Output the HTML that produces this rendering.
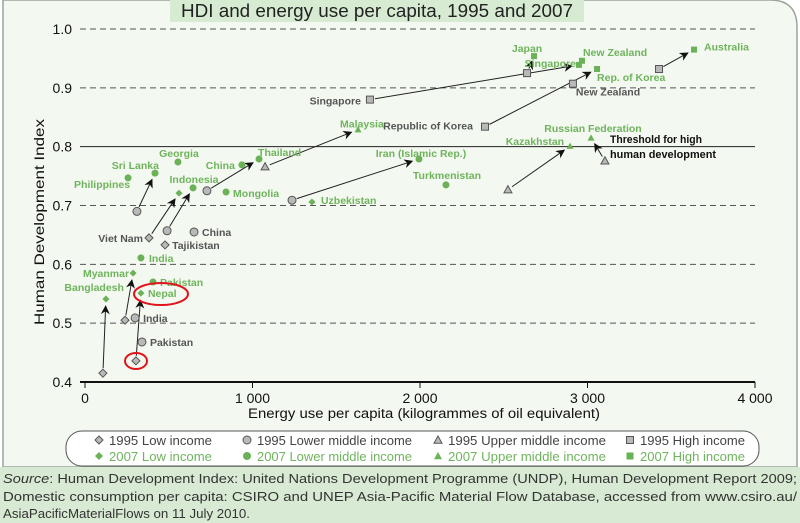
<!DOCTYPE html>
<html><head><meta charset="utf-8">
<style>
html,body{margin:0;padding:0;background:#fff;}
svg{display:block;font-family:"Liberation Sans",sans-serif;}
</style></head>
<body>
<svg id="chart" width="800" height="523" viewBox="0 0 800 523" xmlns="http://www.w3.org/2000/svg">
<defs>
<marker id="ah" viewBox="0 0 10 10" refX="9" refY="5" markerWidth="9" markerHeight="9" orient="auto" markerUnits="userSpaceOnUse">
<path d="M0,0 L10,5 L0,10 L3,5 z" fill="#111"/>
</marker>
</defs>
<rect x="0" y="0" width="800" height="523" fill="#ffffff"/>
<path d="M3,0 H770 Q797,0 797,27 V467 H3 Z" fill="#f3f8f0" stroke="#9aa49a" stroke-width="1.5"/>
<rect x="0" y="467" width="800" height="56" fill="#d8ead3"/>
<rect x="170" y="0" width="414" height="22" fill="#d6ebd2"/>
<text x="377" y="17" text-anchor="middle" font-size="18" fill="#222" textLength="392" lengthAdjust="spacingAndGlyphs">HDI and energy use per capita, 1995 and 2007</text>
<g id="axes"></g>
<g id="arrows"></g>
<g id="marks"></g>
<g id="labels"></g>
<text x="610" y="143" font-size="11" font-weight="bold" fill="#111" textLength="92" lengthAdjust="spacingAndGlyphs">Threshold for high</text>
<text x="610" y="158" font-size="11" font-weight="bold" fill="#111" textLength="106" lengthAdjust="spacingAndGlyphs">human development</text>
<ellipse cx="161" cy="294" rx="27" ry="11" fill="none" stroke="#e0151b" stroke-width="2"/>
<ellipse cx="136" cy="361" rx="11" ry="8" fill="none" stroke="#e0151b" stroke-width="2"/>
<text transform="translate(44,222) rotate(-90)" text-anchor="middle" font-size="14" fill="#111" textLength="206" lengthAdjust="spacingAndGlyphs">Human Development Index</text>
<text x="424" y="418" text-anchor="middle" font-size="13.5" fill="#111" textLength="352" lengthAdjust="spacingAndGlyphs">Energy use per capita (kilogrammes of oil equivalent)</text>
<g id="legend"></g>
<g font-size="12.5" fill="#333">
<text x="3" y="483" textLength="794" lengthAdjust="spacingAndGlyphs"><tspan font-style="italic">Source</tspan>: Human Development Index: United Nations Development Programme (UNDP), Human Development Report 2009;</text>
<text x="3" y="501" textLength="794" lengthAdjust="spacingAndGlyphs">Domestic consumption per capita: CSIRO and UNEP Asia-Pacific Material Flow Database, accessed from www.csiro.au/</text>
<text x="3" y="518" textLength="247" lengthAdjust="spacingAndGlyphs">AsiaPacificMaterialFlows on 11 July 2010.</text>
</g>
</svg>
<script>
// ---- data ----
const xTicks = [0, 1000, 2000, 3000, 4000];
const xTickLabels = ["0", "1 000", "2 000", "3 000", "4 000"];
const yTicks = [0.4, 0.5, 0.6, 0.7, 0.8, 0.9, 1.0];
const yTickLabels = ["0.4", "0.5", "0.6", "0.7", "0.8", "0.9", "1.0"];
const threshold = 0.8;
const pointIds = ["srilanka-2007","philippines-2007","georgia-2007","indonesia-2007","vietnam-2007","china-2007","thailand-2007","malaysia-2007","mongolia-2007","uzbekistan-2007","iran-2007","turkmenistan-2007","kazakhstan-2007","russia-2007","japan-2007","singapore-2007","newzealand-2007","korea-2007","australia-2007","india-2007","myanmar-2007","pakistan-2007","nepal-2007","bangladesh-2007",
 "srilanka-1995","vietnam-1995","indonesia-1995","china-1995","tajikistan-1995","thailand-lm-1995","malaysia-1995","iran-1995","singapore-1995","japan-1995","newzealand-1995","korea-1995","australia-1995","kazakhstan-1995","russia-1995","india-1995","pakistan-1995","myanmar-1995","nepal-1995","bangladesh-1995"];
const pointLabels = ["Sri Lanka","Philippines","Georgia","Indonesia","","China","Thailand","Malaysia","Mongolia","Uzbekistan","Iran (Islamic Rep.)","Turkmenistan","Kazakhstan","Russian Federation","Japan","Singapore","New Zealand","Rep. of Korea","Australia","India","Myanmar","Pakistan","Nepal","Bangladesh",
 "","Viet Nam","","China","Tajikistan","","","","Singapore","","New Zealand","Republic of Korea","","","","India","Pakistan","","",""];
const pointYears = [2007,2007,2007,2007,2007,2007,2007,2007,2007,2007,2007,2007,2007,2007,2007,2007,2007,2007,2007,2007,2007,2007,2007,2007,
 1995,1995,1995,1995,1995,1995,1995,1995,1995,1995,1995,1995,1995,1995,1995,1995,1995,1995,1995,1995];
const pointGroups = ["lm","lm","lm","lm","low","lm","lm","um","lm","low","lm","lm","um","um","high","high","high","high","high","lm","low","lm","low","low",
 "lm","low","lm","lm","low","lm","um","lm","high","high","high","high","high","um","um","lm","lm","low","low","low"];
const energy = [418,257,555,645,561,937,1039,1630,842,1355,1994,2155,2896,3021,2681,2949,2967,3057,3636,334,287,406,334,125,
 310,382,490,651,478,728,1075,1236,1701,2639,2913,2388,3427,2525,3104,299,340,239,304,107];
const hdi = [0.755,0.747,0.774,0.730,0.721,0.769,0.779,0.829,0.723,0.706,0.779,0.735,0.801,0.815,0.954,0.939,0.946,0.932,0.965,0.611,0.585,0.570,0.551,0.541,
 0.690,0.645,0.657,0.655,0.633,0.725,0.766,0.709,0.880,0.925,0.907,0.834,0.932,0.727,0.776,0.509,0.468,0.505,0.436,0.415];
const arrowFrom = [24,25,26,29,30,31,32,33,35,36,37,38,41,42,43];
const arrowTo   = [0, 4, 3, 6, 7, 10,15,14,17,18,12,13,20,22,23];
const legendLabels = ["1995 Low income","1995 Lower middle income","1995 Upper middle income","1995 High income","2007 Low income","2007 Lower middle income","2007 Upper middle income","2007 High income"];

// ---- label placement (style, not data) ----
const labelStyle = {
 "srilanka-2007":[4,-8,"end"],"philippines-2007":[2,6,"end"],"georgia-2007":[1,-9,"middle"],"indonesia-2007":[1,-9,"middle"],
 "china-2007":[-7,0,"end"],"thailand-2007":[-1,-7,"start"],"malaysia-2007":[-18,-6,"start"],"mongolia-2007":[7,1,"start"],
 "uzbekistan-2007":[9,-2,"start"],"iran-2007":[2,-6,"middle"],"turkmenistan-2007":[1,-10,"middle"],"kazakhstan-2007":[-6,-5,"end"],
 "russia-2007":[2,-10,"middle"],"japan-2007":[-7,-8,"middle"],"singapore-2007":[-3,-2,"end"],"newzealand-2007":[1,-9,"start"],
 "korea-2007":[0,8,"start"],"australia-2007":[10,-3,"start"],"india-2007":[8,0,"start"],"myanmar-2007":[-4,0,"end"],
 "pakistan-2007":[7,0,"start"],"nepal-2007":[7,0,"start"],"bangladesh-2007":[18,-12,"end"],
 "vietnam-1995":[-6,0,"end"],"china-1995":[8,0,"start"],"tajikistan-1995":[7,0,"start"],"singapore-1995":[-9,1,"end"],
 "newzealand-1995":[3,8,"start"],"korea-1995":[-12,-1,"end"],"india-1995":[8,0,"start"],"pakistan-1995":[8,0,"start"]
};

const NS = "http://www.w3.org/2000/svg";
const X0 = 85, X1 = 755, Y0 = 382, Y1 = 29;
function xs(v){ return X0 + (v - 0) / 4000 * (X1 - X0); }
function ys(v){ return Y0 - (v - 0.4) / 0.6 * (Y0 - Y1); }
function mk(tag, attrs, parent){ const e = document.createElementNS(NS, tag); for (const k in attrs) e.setAttribute(k, attrs[k]); parent.appendChild(e); return e; }

const GREEN = "#6bb157", GRAYF = "#b9b9b9", GRAYS = "#555", LBLG = "#555";

// axes
const axes = document.getElementById("axes");
yTicks.forEach((t, i) => {
  const y = ys(t);
  if (t > 0.4) {
    const solid = Math.abs(t - threshold) < 1e-9;
    const ln = mk("line", {x1: 80, x2: X1, y1: y, y2: y, stroke: solid ? "#222" : "#555", "stroke-width": 1, "stroke-dasharray": solid ? "none" : "6,4"}, axes);
    
    
  }
  const tx = mk("text", {x: 72, y: y + 5, "text-anchor": "end", "font-size": 14, fill: "#111"}, axes);
  tx.textContent = yTickLabels[i];
  
  
});
const xa = mk("line", {x1: 80, x2: X1, y1: Y0, y2: Y0, stroke: "#111", "stroke-width": 2}, axes);


xTicks.forEach((t, i) => {
  const x = xs(t);
  const tk = mk("line", {x1: x, x2: x, y1: Y0, y2: Y0 + 6, stroke: "#111", "stroke-width": 1}, axes);
  
  
  const tx = mk("text", {x: x, y: Y0 + 21, "text-anchor": "middle", "font-size": 14, fill: "#111"}, axes);
  tx.textContent = xTickLabels[i];
  
  
});

// marker drawing
function drawMarker(parent, group, year, cx, cy, r){
  const f = year === 2007 ? GREEN : GRAYF;
  const s = year === 2007 ? "none" : GRAYS;
  if (!r) r = year === 2007 ? 3.5 : 4;
  let e;
  if (group === "low") e = mk("polygon", {points: `${cx},${cy-r} ${cx+r},${cy} ${cx},${cy+r} ${cx-r},${cy}`, fill: f, stroke: s}, parent);
  else if (group === "lm") e = mk("circle", {cx: cx, cy: cy, r: r, fill: f, stroke: s}, parent);
  else if (group === "um") e = mk("polygon", {points: `${cx},${cy-r} ${cx+r},${cy+r*0.8} ${cx-r},${cy+r*0.8}`, fill: f, stroke: s}, parent);
  else e = mk("rect", {x: cx - r + 0.5, y: cy - r + 0.5, width: 2*r - 1, height: 2*r - 1, fill: f, stroke: s}, parent);
  return e;
}

// arrows
const arrowsG = document.getElementById("arrows");
arrowFrom.forEach((a, i) => {
  const b = arrowTo[i];
  const x1 = xs(energy[a]), y1 = ys(hdi[a]), x2 = xs(energy[b]), y2 = ys(hdi[b]);
  const dx = x2 - x1, dy = y2 - y1, L = Math.hypot(dx, dy);
  const s1 = 5 / L, s2 = Math.min(7, L * 0.3) / L;
  const ln = mk("line", {x1: x1 + dx*s1, y1: y1 + dy*s1, x2: x2 - dx*s2, y2: y2 - dy*s2, stroke: "#222", "stroke-width": 1, "marker-end": "url(#ah)"}, arrowsG);
  
  
});

// points + labels
const marksG = document.getElementById("marks"), labelsG = document.getElementById("labels");
pointIds.forEach((id, i) => {
  const cx = xs(energy[i]), cy = ys(hdi[i]);
  const m = drawMarker(marksG, pointGroups[i], pointYears[i], cx, cy);
  
  
  if (pointLabels[i]) {
    const st = labelStyle[id] || [6, 0, "start"];
    const t = mk("text", {x: cx + st[0], y: cy + st[1] + 4, "text-anchor": st[2], "font-size": 10.5, "font-weight": "bold", fill: pointYears[i] === 2007 ? "#6fb45d" : LBLG}, labelsG);
    t.textContent = pointLabels[i];
    
    
  }
});

// legend
const lg = document.getElementById("legend");
const box = mk("rect", {x: 66, y: 431, width: 693, height: 35, rx: 16, fill: "#fff", stroke: "#555", "stroke-width": 1}, lg);


const legX = [109, 257, 448, 640];
const legW = [103, 155, 158, 105];
const legGroups = ["low", "lm", "um", "high"];
legendLabels.forEach((lab, i) => {
  const col = i % 4, row = Math.floor(i / 4);
  const yr = row === 0 ? 1995 : 2007;
  const y = row === 0 ? 441 : 457;
  const m = drawMarker(lg, legGroups[col], yr, legX[col] - 10, y - 1, 4);
  
  
  const t = mk("text", {x: legX[col], y: y + 4, "font-size": 12.5, fill: yr === 2007 ? "#6fb45d" : "#444", textLength: legW[col], lengthAdjust: "spacingAndGlyphs"}, lg);
  t.textContent = lab;
  
  
});
</script>
</body></html>
